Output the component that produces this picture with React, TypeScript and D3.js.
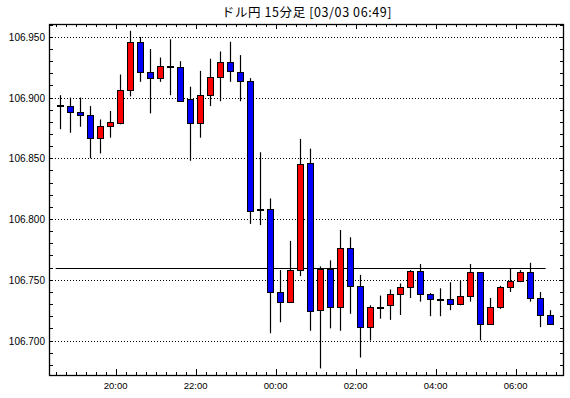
import React from "react";
import * as d3 from "d3";

const title = "ドル円 15分足 [03/03 06:49]";
const startTime = new Date(2020, 2, 2, 18, 30);
const opens = [106.894, 106.893, 106.888, 106.886, 106.867, 106.877, 106.879, 106.906, 106.946, 106.921,
  106.916, 106.926, 106.925, 106.899, 106.879, 106.902, 106.917, 106.929, 106.921, 106.914,
  106.808, 106.808, 106.740, 106.732, 106.758, 106.846, 106.725, 106.759, 106.728, 106.776,
  106.745, 106.711, 106.728, 106.729, 106.738, 106.744, 106.757, 106.738, 106.734, 106.734,
  106.730, 106.737, 106.756, 106.714, 106.728, 106.744, 106.749, 106.756, 106.735, 106.721];
const highs = [106.902, 106.900, 106.900, 106.893, 106.882, 106.889, 106.919, 106.955, 106.950, 106.940,
  106.933, 106.948, 106.930, 106.909, 106.922, 106.932, 106.938, 106.946, 106.935, 106.916,
  106.855, 106.817, 106.758, 106.782, 106.866, 106.858, 106.761, 106.766, 106.791, 106.785,
  106.754, 106.729, 106.737, 106.742, 106.747, 106.758, 106.763, 106.739, 106.743, 106.748,
  106.749, 106.763, 106.756, 106.735, 106.745, 106.759, 106.758, 106.764, 106.740, 106.725];
const lows = [106.874, 106.871, 106.876, 106.850, 106.854, 106.867, 106.878, 106.901, 106.913, 106.887,
  106.913, 106.902, 106.897, 106.848, 106.867, 106.893, 106.897, 106.913, 106.897, 106.796,
  106.795, 106.706, 106.715, 106.732, 106.753, 106.708, 106.677, 106.710, 106.708, 106.722,
  106.686, 106.700, 106.718, 106.717, 106.721, 106.735, 106.732, 106.720, 106.720, 106.725,
  106.729, 106.732, 106.700, 106.713, 106.726, 106.740, 106.748, 106.732, 106.711, 106.714];
const closes = [106.894, 106.888, 106.886, 106.867, 106.877, 106.880, 106.906, 106.946, 106.921, 106.916,
  106.926, 106.926, 106.897, 106.879, 106.902, 106.917, 106.929, 106.922, 106.914, 106.807,
  106.808, 106.740, 106.732, 106.758, 106.845, 106.724, 106.759, 106.728, 106.776, 106.745,
  106.711, 106.728, 106.728, 106.738, 106.744, 106.757, 106.738, 106.734, 106.734, 106.730,
  106.737, 106.756, 106.714, 106.728, 106.744, 106.749, 106.756, 106.735, 106.721, 106.714];
const refPrice = 106.760;
const yTickValues = [106.70, 106.75, 106.80, 106.85, 106.90, 106.95];

const L = 49, R = 563, T = 24, B = 375;

export default function App() {
  const x = d3.scaleTime()
    .domain([new Date(2020, 2, 2, 18, 20), new Date(2020, 2, 3, 7, 11)])
    .range([L, R]);
  const y = d3.scaleLinear().domain([106.6716, 106.9606]).range([B, T]);
  const minorX = x.ticks(d3.timeMinute.every(15) as any);
  const majorX = x.ticks(d3.timeHour.every(2) as any);
  const fmt = d3.timeFormat("%H:%M");
  const minorY = d3.range(106.68, 106.961, 0.01);
  const candles = opens.map((o, i) => {
    const t = d3.timeMinute.offset(startTime, 15 * i);
    return { t, o, h: highs[i], l: lows[i], c: closes[i] };
  });
  const lastStart = d3.timeMinute.offset(startTime, 15 * (opens.length - 1));
  const px = (v: number) => Math.round(v) + 0.5;
  return (
    <svg width={570} height={398} style={{ position: "absolute", left: 0, top: 0, background: "#fff" }}>
      <text x={(L + R) / 2 + 1} y={17} textAnchor="middle" fontSize={12.5} letterSpacing={0.6} fontFamily="'Noto Sans CJK JP', sans-serif">{title}</text>
      {yTickValues.map((v) => (
        <g key={v}>
          <line x1={L} x2={R} y1={px(y(v))} y2={px(y(v))} stroke="#000" strokeDasharray="1,2" />
          <text x={45} y={y(v) + 4} textAnchor="end" fontSize={10} fontFamily="'Liberation Sans', Arial, sans-serif">{v.toFixed(3)}</text>
        </g>
      ))}
      {minorY.map((v, i) => (
        <g key={"my" + i}>
          <line x1={L} x2={L + 4} y1={px(y(v))} y2={px(y(v))} stroke="#000" />
          <line x1={R - 3} x2={R} y1={px(y(v))} y2={px(y(v))} stroke="#000" />
        </g>
      ))}
      {minorX.map((d, i) => {
        const major = d.getMinutes() === 0 && d.getHours() % 2 === 0;
        const xx = px(x(d));
        return (
          <g key={"mx" + i}>
            <line x1={xx} x2={xx} y1={T} y2={T + (major ? 5 : 3)} stroke="#000" />
            <line x1={xx} x2={xx} y1={B} y2={B - (major ? 6 : 3)} stroke="#000" />
          </g>
        );
      })}
      {majorX.map((d, i) => (
        <text key={"xl" + i} x={x(d)} y={389} textAnchor="middle" fontSize={9.5} fontFamily="'Liberation Sans', Arial, sans-serif">{fmt(d)}</text>
      ))}
      <line x1={x(startTime)} x2={x(lastStart)} y1={px(y(refPrice))} y2={px(y(refPrice))} stroke="#000" strokeWidth={1.2} />
      {candles.map((c, i) => {
        const cx = x(d3.timeMinute.offset(c.t, 7.5 as any)) as number;
        const xc = px(cx - 0.5);
        const top = Math.min(y(c.o), y(c.c));
        const bot = Math.max(y(c.o), y(c.c));
        const h = Math.max(Math.round(bot) - Math.round(top), 1);
        const fill = c.c > c.o ? "#ff0000" : c.c < c.o ? "#0000ff" : "#000";
        return (
          <g key={"c" + i}>
            <line x1={xc} x2={xc} y1={y(c.h)} y2={y(c.l)} stroke="#000" strokeWidth={1.2} />
            <rect x={xc - 3} y={Math.round(top) + 0.5} width={6} height={h} fill={fill} stroke="#000" strokeWidth={1} />
          </g>
        );
      })}
      <rect x={L + 0.5} y={T + 0.5} width={R - L} height={B - T} fill="none" stroke="#000" strokeWidth={1.3} />
    </svg>
  );
}
